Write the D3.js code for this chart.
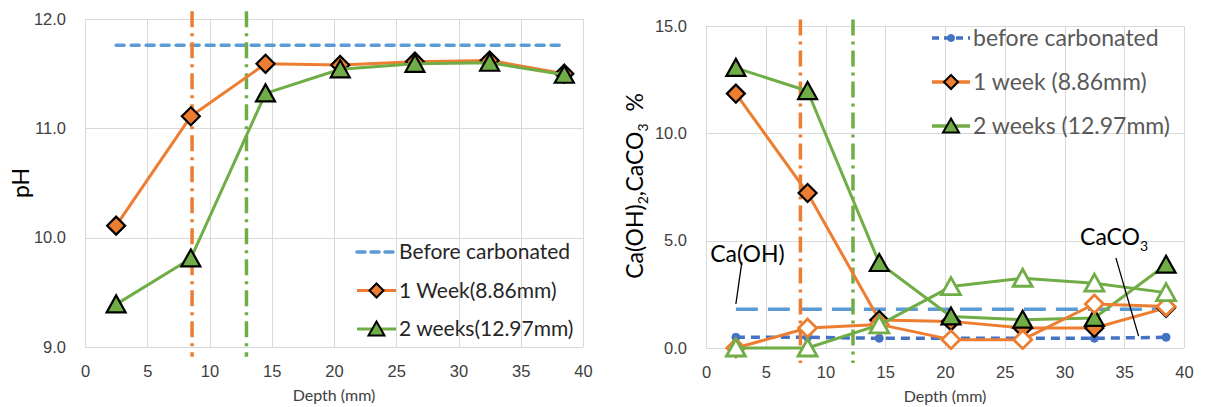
<!DOCTYPE html>
<meta charset="utf-8">
<head>
<title>pH and Ca(OH)2 / CaCO3 profiles</title>
<style>
  body { margin: 0; background: #fff; }
  svg { font-family: Lato, "Liberation Sans", sans-serif; }
  .grid line { stroke: #d9d9d9; stroke-width: 1; shape-rendering: crispEdges; }
  .grid path { display: none; }
  .axis text { fill: #404040; font-size: 16.5px; }
  .axis path, .axis line { display: none; }
</style>
</head>
<body>
<script src="https://cdn.jsdelivr.net/npm/d3@7"></script>
<script>

// shared depth positions (mm)
var depth = [2.5, 8.5, 14.5, 20.5, 26.5, 32.5, 38.5];
var depthTicks = [0, 5, 10, 15, 20, 25, 30, 35, 40];

// left chart: pH
var phTicks = [9, 10, 11, 12];
var phBefore = [11.76, 11.76, 11.76, 11.76, 11.76, 11.76, 11.76];
var ph1Week = [10.11, 11.11, 11.59, 11.58, 11.61, 11.62, 11.50];
var ph2Weeks = [9.39, 9.81, 11.32, 11.54, 11.59, 11.60, 11.49];
var phFronts = [8.6, 12.97];
var phFrontSpan = [8.91, 12.07];
var phLegend = ["Before carbonated", "1 Week(8.86mm)", "2 weeks(12.97mm)"];

// right chart: Ca(OH)2 (filled markers) and CaCO3 (hollow markers), %
var caTicks = [0, 5, 10, 15];
var caBeforeOH = [1.8, 1.8, 1.8, 1.8, 1.8, 1.8, 1.8];
var caBeforeCO3 = [0.5, 0.5, 0.45, 0.45, 0.45, 0.45, 0.5];
var ca1WeekOH = [11.85, 7.22, 1.3, 1.24, 0.93, 0.93, 1.87];
var ca2WeeksOH = [13.05, 11.97, 3.96, 1.47, 1.32, 1.4, 3.88];
var ca1WeekCO3 = [0, 0.93, 1.1, 0.39, 0.39, 2.05, 1.93];
var ca2WeeksCO3 = [0, 0, 1.08, 2.86, 3.25, 3.02, 2.58];
var caFronts = [7.9, 12.3];
var caFrontSpan = [-0.7, 15.3];
var caLegend = ["before carbonated", "1 week (8.86mm)", "2 weeks (12.97mm)"];

var orange = "#ED7D31", green = "#70AD47", lightBlue = "#5B9BD5", blue = "#4472C4";

var svg = d3.select("body").append("svg")
    .attr("width", 1205)
    .attr("height", 407);

function pts(ys) { return depth.map(function(d, i) { return [d, ys[i]]; }); }

var diamond = "M0,-9L9,0L0,9L-9,0Z";
var triangle = "M0,-9L9.5,8L-9.5,8Z";
var smallDiamond = "M0,-7L7,0L0,7L-7,0Z";
var smallTriangle = "M0,-7.5L8,6.5L-8,6.5Z";

function frame(g, x, y, yTicks) {
  var x0 = x.range()[0], x1 = x.range()[1], y0 = y.range()[0], y1 = y.range()[1];
  g.append("g").attr("class", "grid")
      .attr("transform", "translate(0," + y0 + ")")
      .call(d3.axisBottom(x).tickValues(depthTicks).tickSize(y1 - y0).tickFormat(""));
  g.append("g").attr("class", "grid")
      .attr("transform", "translate(" + x0 + ",0)")
      .call(d3.axisLeft(y).tickValues(yTicks).tickSize(x0 - x1).tickFormat(""));
  g.append("g").attr("class", "axis")
      .attr("transform", "translate(0," + y0 + ")")
      .call(d3.axisBottom(x).tickValues(depthTicks).tickSize(0).tickPadding(18));
  g.append("g").attr("class", "axis")
      .attr("transform", "translate(" + x0 + ",0)")
      .call(d3.axisLeft(y).tickValues(yTicks).tickSize(0).tickPadding(19)
        .tickFormat(d3.format(".1f")));
  g.append("text")
      .attr("x", (x0 + x1) / 2).attr("y", y0 + 54)
      .attr("text-anchor", "middle")
      .style("font-size", "16px").style("fill", "#404040")
      .text("Depth (mm)");
}

function series(g, x, y, ys, color, opts) {
  var line = d3.line().x(function(d) { return x(d[0]); }).y(function(d) { return y(d[1]); });
  g.append("path")
      .attr("d", line(pts(ys)))
      .attr("fill", "none")
      .attr("stroke", color)
      .attr("stroke-width", opts.width || 3)
      .attr("stroke-dasharray", opts.dash || null)
      .attr("stroke-linecap", opts.cap || "butt")
      .attr("stroke-linejoin", "round");
  if (!opts.marker) return;
  g.selectAll(null)
      .data(pts(ys))
    .enter().append("path")
      .attr("d", opts.marker)
      .attr("transform", function(d) { return "translate(" + x(d[0]) + "," + y(d[1]) + ")"; })
      .attr("fill", opts.fill)
      .attr("stroke", opts.stroke)
      .attr("stroke-width", opts.strokeWidth || 2.2)
      .attr("stroke-linejoin", "miter");
}

function fronts(g, x, y, xs, span, colors) {
  g.selectAll(null)
      .data(xs)
    .enter().append("line")
      .attr("x1", function(d) { return x(d); })
      .attr("x2", function(d) { return x(d); })
      .attr("y1", y(span[1]))
      .attr("y2", y(span[0]))
      .attr("stroke", function(d, i) { return colors[i]; })
      .attr("stroke-width", 3.5)
      .attr("stroke-dasharray", "16,6,3,6");
}

// ---------- left chart ----------
var xL = d3.scaleLinear().domain([0, 40]).range([85, 583]);
var yL = d3.scaleLinear().domain([9, 12]).range([347, 19]);
var gL = svg.append("g");
frame(gL, xL, yL, phTicks);

gL.append("text")
    .attr("transform", "translate(29,183) rotate(-90)")
    .attr("text-anchor", "middle")
    .style("font-size", "23px").style("fill", "#000")
    .text("pH");

series(gL, xL, yL, phBefore, lightBlue, { width: 3.5, dash: "8,7", cap: "round" });
fronts(gL, xL, yL, phFronts, phFrontSpan, [orange, green]);
series(gL, xL, yL, ph1Week, orange, { marker: diamond, fill: orange, stroke: "#000" });
series(gL, xL, yL, ph2Weeks, green, { marker: triangle, fill: green, stroke: "#000" });

var legL = gL.append("g").attr("transform", "translate(357,252)");
[
  { c: lightBlue, dash: "8,6", m: null, f: null },
  { c: orange, dash: null, m: smallDiamond, f: orange },
  { c: green, dash: null, m: smallTriangle, f: green }
].forEach(function(e, i) {
  var r = legL.append("g").attr("transform", "translate(0," + (i * 38.5) + ")");
  r.append("line").attr("x1", 0).attr("x2", 39)
      .attr("stroke", e.c).attr("stroke-width", e.dash ? 3.5 : 3)
      .attr("stroke-dasharray", e.dash).attr("stroke-linecap", e.dash ? "round" : "butt");
  if (e.m) r.append("path").attr("d", e.m).attr("transform", "translate(19.5,0)")
      .attr("fill", e.f).attr("stroke", "#000").attr("stroke-width", 2);
  r.append("text").attr("x", 42).attr("dy", "0.35em")
      .style("font-size", "21px").style("fill", "#262626")
      .text(phLegend[i]);
});

// ---------- right chart ----------
var xR = d3.scaleLinear().domain([0, 40]).range([706, 1184]);
var yR = d3.scaleLinear().domain([0, 15]).range([348, 26]);
var gR = svg.append("g");
frame(gR, xR, yR, caTicks);

var yTitle = gR.append("text")
    .attr("transform", "translate(643,186) rotate(-90)")
    .attr("text-anchor", "middle")
    .style("font-size", "23px").style("fill", "#000");
yTitle.append("tspan").text("Ca(OH)");
yTitle.append("tspan").attr("dy", 5).style("font-size", "14px").text("2");
yTitle.append("tspan").attr("dy", -5).text(",CaCO");
yTitle.append("tspan").attr("dy", 5).style("font-size", "14px").text("3");
yTitle.append("tspan").attr("dy", -5).text("\u00a0\u00a0%");

series(gR, xR, yR, caBeforeOH, lightBlue, { width: 3.5, dash: "22,10" });
series(gR, xR, yR, caBeforeCO3, blue, { width: 3.5, dash: "9,6",
  marker: "M0,-4A4,4 0 1,1 0,4A4,4 0 1,1 0,-4Z", fill: blue, stroke: blue, strokeWidth: 1 });
fronts(gR, xR, yR, caFronts, caFrontSpan, [orange, green]);
series(gR, xR, yR, ca1WeekOH, orange, { marker: diamond, fill: orange, stroke: "#000" });
series(gR, xR, yR, ca2WeeksOH, green, { marker: triangle, fill: green, stroke: "#000" });
series(gR, xR, yR, ca1WeekCO3, orange, { marker: diamond, fill: "#fff", stroke: orange, strokeWidth: 2.8 });
series(gR, xR, yR, ca2WeeksCO3, green, { marker: triangle, fill: "#fff", stroke: green, strokeWidth: 2.8 });

// callouts
var callouts = [
  { label: "Ca(OH)", sub: "", tx: 0.35, ty: 4.0, from: [3.0, 4.0], to: [2.5, 2.05] },
  { label: "CaCO", sub: "3", tx: 31.3, ty: 4.8, from: [34.3, 4.2], to: [36.2, 0.55] }
];
callouts.forEach(function(c) {
  var t = gR.append("text")
      .attr("x", xR(c.tx)).attr("y", yR(c.ty))
      .style("font-size", "23px").style("fill", "#000");
  t.append("tspan").text(c.label);
  if (c.sub) t.append("tspan").attr("dy", 6).style("font-size", "14px").text(c.sub);
  gR.append("line")
      .attr("x1", xR(c.from[0])).attr("y1", yR(c.from[1]))
      .attr("x2", xR(c.to[0])).attr("y2", yR(c.to[1]))
      .attr("stroke", "#000").attr("stroke-width", 1.3);
});

var legR = gR.append("g").attr("transform", "translate(932,38)");
[
  { c: blue, dash: "7,5", m: "M0,-3.5A3.5,3.5 0 1,1 0,3.5A3.5,3.5 0 1,1 0,-3.5Z", f: blue, s: blue },
  { c: orange, dash: null, m: smallDiamond, f: orange, s: "#000" },
  { c: green, dash: null, m: smallTriangle, f: green, s: "#000" }
].forEach(function(e, i) {
  var r = legR.append("g").attr("transform", "translate(0," + (i * 44) + ")");
  r.append("line").attr("x1", 0).attr("x2", 38)
      .attr("stroke", e.c).attr("stroke-width", 3.5)
      .attr("stroke-dasharray", e.dash);
  r.append("path").attr("d", e.m).attr("transform", "translate(19,0)")
      .attr("fill", e.f).attr("stroke", e.s).attr("stroke-width", e.s === "#000" ? 2 : 1);
  r.append("text").attr("x", 41).attr("dy", "0.35em")
      .style("font-size", "23px").style("fill", "#595959")
      .text(caLegend[i]);
});

</script>
</body>
